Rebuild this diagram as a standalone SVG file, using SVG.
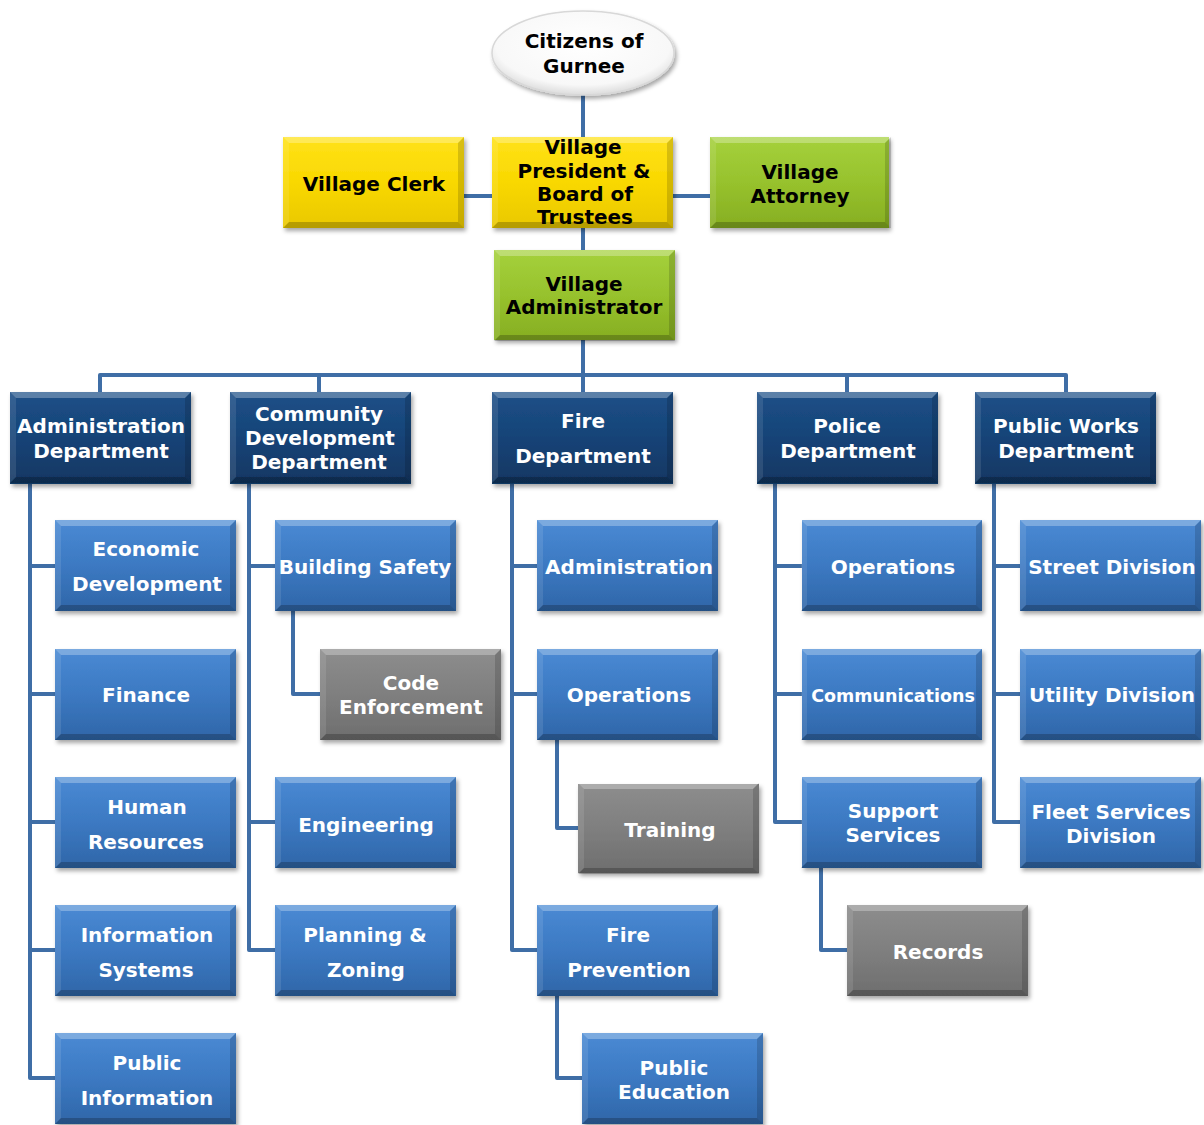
<svg xmlns="http://www.w3.org/2000/svg" xmlns:xlink="http://www.w3.org/1999/xlink" width="1204" height="1125" viewBox="0 0 1204 1125">
<defs>
<linearGradient id="gNavy" x1="0" y1="0" x2="0" y2="1"><stop offset="0" stop-color="#1d5088"/><stop offset="0.5" stop-color="#164377"/><stop offset="1" stop-color="#113762"/></linearGradient>
<linearGradient id="gBlue" x1="0" y1="0" x2="0" y2="1"><stop offset="0" stop-color="#4a8ad4"/><stop offset="0.5" stop-color="#3c79c2"/><stop offset="1" stop-color="#2f66a8"/></linearGradient>
<linearGradient id="gGray" x1="0" y1="0" x2="0" y2="1"><stop offset="0" stop-color="#8d8d8d"/><stop offset="0.5" stop-color="#7f7f7f"/><stop offset="1" stop-color="#6e6e6e"/></linearGradient>
<linearGradient id="gYellow" x1="0" y1="0" x2="0" y2="1"><stop offset="0" stop-color="#ffe21a"/><stop offset="0.5" stop-color="#f9d800"/><stop offset="1" stop-color="#e9c800"/></linearGradient>
<linearGradient id="gGreen" x1="0" y1="0" x2="0" y2="1"><stop offset="0" stop-color="#a5d13c"/><stop offset="0.5" stop-color="#97c22d"/><stop offset="1" stop-color="#86ae22"/></linearGradient>
<radialGradient id="gEll" cx="0.5" cy="0.4" r="0.6"><stop offset="0" stop-color="#ffffff"/><stop offset="0.8" stop-color="#f8f8f8"/><stop offset="1" stop-color="#dcdcdc"/></radialGradient>
<filter id="sh" x="-10%" y="-10%" width="125%" height="130%"><feDropShadow dx="2" dy="3" stdDeviation="2" flood-color="#000" flood-opacity="0.35"/></filter>
<g id="bevel">
<polygon points="0,0 181,0 175,6 6,6" fill="#fff" fill-opacity="0.28"/>
<polygon points="0,91 181,91 175,85 6,85" fill="#000" fill-opacity="0.22"/>
<polygon points="0,0 6,6 6,85 0,91" fill="#fff" fill-opacity="0.1"/>
<polygon points="181,0 175,6 175,85 181,91" fill="#000" fill-opacity="0.15"/>
</g>
</defs>
<style>
.t{font-family:"DejaVu Sans","Verdana",sans-serif;font-weight:bold;font-size:20px;text-anchor:middle}
.w{fill:#fff}
.k{fill:#000}
.navy{fill:url(#gNavy)}
.blue{fill:url(#gBlue)}
.gray{fill:url(#gGray)}
.yel{fill:url(#gYellow)}
.grn{fill:url(#gGreen)}
.box{filter:url(#sh)}
.ln{fill:none;stroke:#3f6ea6;stroke-width:4;stroke-linejoin:round}
</style>
<rect width="1204" height="1125" fill="#fff"/>

<g id="connectors" class="ln">
<path d="M583,95 V137"/>
<path d="M463,196 H492 M673,196 H710"/>
<path d="M583,228 V250"/>
<path d="M583,340 V375 M100,392 V375 H1066 V392 M319,375 V392 M583,375 V392 M847,375 V392"/>
<path d="M30,484 V1078 H55 M30,566 H55 M30,694 H55 M30,822 H55 M30,950 H55"/>
<path d="M249,484 V950 H275 M249,566 H275 M249,822 H275"/>
<path d="M293,611 V694 H320"/>
<path d="M512,484 V950 H537 M512,566 H537 M512,694 H537"/>
<path d="M557,740 V828 H578"/>
<path d="M557,996 V1078 H582"/>
<path d="M775,484 V822 H802 M775,566 H802 M775,694 H802"/>
<path d="M821,868 V950 H847"/>
<path d="M994,484 V822 H1020 M994,566 H1020 M994,694 H1020"/>
</g>

<g id="citizens">
<ellipse cx="583" cy="53" rx="91" ry="42" fill="url(#gEll)" stroke="#d8d8d8" stroke-width="1.5" filter="url(#sh)"/>
<text class="t k" x="584" y="48">Citizens of</text>
<text class="t k" x="584" y="73">Gurnee</text>
</g>

<g id="village-clerk">
<rect class="box yel" x="283" y="137" width="181" height="91"/><use href="#bevel" x="283" y="137"/>
<text class="t k" x="374" y="191">Village Clerk</text>
</g>
<g id="village-president">
<rect class="box yel" x="492" y="137" width="181" height="91"/><use href="#bevel" x="492" y="137"/>
<text class="t k" x="583" y="154">Village</text>
<text class="t k" x="584" y="178">President &amp;</text>
<text class="t k" x="585" y="201">Board of</text>
<text class="t k" x="585" y="224">Trustees</text>
</g>
<g id="village-attorney">
<rect class="box grn" x="710" y="137" width="179" height="91"/><use href="#bevel" x="710" y="137"/>
<text class="t k" x="800" y="179">Village</text>
<text class="t k" x="800" y="203">Attorney</text>
</g>
<g id="village-administrator">
<rect class="box grn" x="494" y="250" width="181" height="90"/><use href="#bevel" x="494" y="250"/>
<text class="t k" x="584" y="291">Village</text>
<text class="t k" x="584" y="314">Administrator</text>
</g>

<g id="admin-dept">
<rect class="box navy" x="10" y="392" width="181" height="92"/><use href="#bevel" x="10" y="392"/>
<text class="t w" x="101" y="433">Administration</text>
<text class="t w" x="101" y="458">Department</text>
</g>
<g id="community-dev-dept">
<rect class="box navy" x="230" y="392" width="181" height="92"/><use href="#bevel" x="230" y="392"/>
<text class="t w" x="319" y="421">Community</text>
<text class="t w" x="320" y="445">Development</text>
<text class="t w" x="319" y="469">Department</text>
</g>
<g id="fire-dept">
<rect class="box navy" x="492" y="392" width="181" height="92"/><use href="#bevel" x="492" y="392"/>
<text class="t w" x="583" y="428">Fire</text>
<text class="t w" x="583" y="463">Department</text>
</g>
<g id="police-dept">
<rect class="box navy" x="757" y="392" width="181" height="92"/><use href="#bevel" x="757" y="392"/>
<text class="t w" x="847" y="433">Police</text>
<text class="t w" x="848" y="458">Department</text>
</g>
<g id="public-works-dept">
<rect class="box navy" x="975" y="392" width="181" height="92"/><use href="#bevel" x="975" y="392"/>
<text class="t w" x="1066" y="433">Public Works</text>
<text class="t w" x="1066" y="458">Department</text>
</g>

<g id="economic-development">
<rect class="box blue" x="55" y="520" width="181" height="91"/><use href="#bevel" x="55" y="520"/>
<text class="t w" x="146" y="556">Economic</text>
<text class="t w" x="147" y="591">Development</text>
</g>
<g id="finance">
<rect class="box blue" x="55" y="649" width="181" height="91"/><use href="#bevel" x="55" y="649"/>
<text class="t w" x="146" y="702">Finance</text>
</g>
<g id="human-resources">
<rect class="box blue" x="55" y="777" width="181" height="91"/><use href="#bevel" x="55" y="777"/>
<text class="t w" x="147" y="814">Human</text>
<text class="t w" x="146" y="849">Resources</text>
</g>
<g id="information-systems">
<rect class="box blue" x="55" y="905" width="181" height="91"/><use href="#bevel" x="55" y="905"/>
<text class="t w" x="147" y="942">Information</text>
<text class="t w" x="146" y="977">Systems</text>
</g>
<g id="public-information">
<rect class="box blue" x="55" y="1033" width="181" height="91"/><use href="#bevel" x="55" y="1033"/>
<text class="t w" x="147" y="1070">Public</text>
<text class="t w" x="147" y="1105">Information</text>
</g>

<g id="building-safety">
<rect class="box blue" x="275" y="520" width="181" height="91"/><use href="#bevel" x="275" y="520"/>
<text class="t w" x="365" y="574">Building Safety</text>
</g>
<g id="code-enforcement">
<rect class="box gray" x="320" y="649" width="181" height="91"/><use href="#bevel" x="320" y="649"/>
<text class="t w" x="411" y="690">Code</text>
<text class="t w" x="411" y="714">Enforcement</text>
</g>
<g id="engineering">
<rect class="box blue" x="275" y="777" width="181" height="91"/><use href="#bevel" x="275" y="777"/>
<text class="t w" x="366" y="832">Engineering</text>
</g>
<g id="planning-zoning">
<rect class="box blue" x="275" y="905" width="181" height="91"/><use href="#bevel" x="275" y="905"/>
<text class="t w" x="365" y="942">Planning &amp;</text>
<text class="t w" x="366" y="977">Zoning</text>
</g>

<g id="fire-administration">
<rect class="box blue" x="537" y="520" width="181" height="91"/><use href="#bevel" x="537" y="520"/>
<text class="t w" x="629" y="574">Administration</text>
</g>
<g id="fire-operations">
<rect class="box blue" x="537" y="649" width="181" height="91"/><use href="#bevel" x="537" y="649"/>
<text class="t w" x="629" y="702">Operations</text>
</g>
<g id="training">
<rect class="box gray" x="578" y="784" width="181" height="89"/><use href="#bevel" x="578" y="783"/>
<text class="t w" x="670" y="837">Training</text>
</g>
<g id="fire-prevention">
<rect class="box blue" x="537" y="905" width="181" height="91"/><use href="#bevel" x="537" y="905"/>
<text class="t w" x="628" y="942">Fire</text>
<text class="t w" x="629" y="977">Prevention</text>
</g>
<g id="public-education">
<rect class="box blue" x="582" y="1033" width="181" height="91"/><use href="#bevel" x="582" y="1033"/>
<text class="t w" x="674" y="1075">Public</text>
<text class="t w" x="674" y="1099">Education</text>
</g>

<g id="police-operations">
<rect class="box blue" x="802" y="520" width="180" height="91"/><use href="#bevel" x="801" y="520"/>
<text class="t w" x="893" y="574">Operations</text>
</g>
<g id="communications">
<rect class="box blue" x="802" y="649" width="180" height="91"/><use href="#bevel" x="801" y="649"/>
<text class="t w" x="893" y="702" style="font-size:17.5px">Communications</text>
</g>
<g id="support-services">
<rect class="box blue" x="802" y="777" width="180" height="91"/><use href="#bevel" x="801" y="777"/>
<text class="t w" x="893" y="818">Support</text>
<text class="t w" x="893" y="842">Services</text>
</g>
<g id="records">
<rect class="box gray" x="847" y="905" width="181" height="91"/><use href="#bevel" x="847" y="905"/>
<text class="t w" x="938" y="959">Records</text>
</g>

<g id="street-division">
<rect class="box blue" x="1020" y="520" width="181" height="91"/><use href="#bevel" x="1020" y="520"/>
<text class="t w" x="1112" y="574">Street Division</text>
</g>
<g id="utility-division">
<rect class="box blue" x="1020" y="649" width="181" height="91"/><use href="#bevel" x="1020" y="649"/>
<text class="t w" x="1112" y="702">Utility Division</text>
</g>
<g id="fleet-services-division">
<rect class="box blue" x="1020" y="777" width="181" height="91"/><use href="#bevel" x="1020" y="777"/>
<text class="t w" x="1111" y="819">Fleet Services</text>
<text class="t w" x="1111" y="843">Division</text>
</g>
</svg>
